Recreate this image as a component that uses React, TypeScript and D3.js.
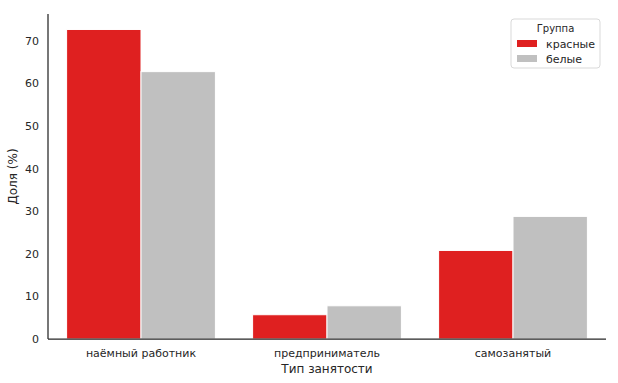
import React from "react";
import * as d3 from "d3";

const categories = ["наёмный работник", "предприниматель", "самозанятый"];
const groups = ["красные", "белые"];
const redValues = [72.7, 5.7, 20.8];
const whiteValues = [62.8, 7.8, 28.8];
const yTicks = [0, 10, 20, 30, 40, 50, 60, 70];
const colors = ["#df2020", "#c0c0c0"];

const W = 618, H = 383;
const m = { left: 48, right: 12, top: 14, bottom: 44 };

export default function App() {
  const series = [redValues, whiteValues];
  const x0 = d3.scaleBand().domain(categories).range([m.left, W - m.right]).paddingInner(0.2).paddingOuter(0.1);
  const x1 = d3.scaleBand().domain(groups).range([0, x0.bandwidth()]);
  const maxV = d3.max([...redValues, ...whiteValues]) as number;
  const y = d3.scaleLinear().domain([0, maxV * 1.05]).range([H - m.bottom, m.top]);
  const font = "DejaVu Sans, sans-serif";
  const textCol = "#262626";
  return (
    <svg width={W} height={H} style={{ position: "absolute", left: 0, top: 0, background: "#fff" }}>
      {categories.map((c, i) =>
        groups.map((g, j) => (
          <rect key={c + g} x={(x0(c) as number) + (x1(g) as number)} y={y(series[j][i])}
            width={x1.bandwidth()} height={y(0) - y(series[j][i])} fill={colors[j]} stroke="#fff" strokeWidth={1} />
        ))
      )}
      <line x1={m.left} x2={m.left} y1={m.top} y2={H - m.bottom} stroke={textCol} strokeWidth={1.25} />
      <line x1={m.left} x2={W - m.right} y1={H - m.bottom} y2={H - m.bottom} stroke={textCol} strokeWidth={1.25} />
      {yTicks.map(t => (
        <text key={t} x={m.left - 9} y={y(t)} dy="0.35em" textAnchor="end" fontFamily={font} fontSize={11} fill={textCol}>{t}</text>
      ))}
      {categories.map(c => (
        <text key={c} x={(x0(c) as number) + x0.bandwidth() / 2} y={H - m.bottom + 18} textAnchor="middle" fontFamily={font} fontSize={11} fill={textCol}>{c}</text>
      ))}
      <text x={(m.left + W - m.right) / 2} y={H - m.bottom + 34} textAnchor="middle" fontFamily={font} fontSize={12} fill={textCol}>Тип занятости</text>
      <text transform={`translate(17, ${(m.top + H - m.bottom) / 2}) rotate(-90)`} textAnchor="middle" fontFamily={font} fontSize={12} fill={textCol}>Доля (%)</text>
      <g transform="translate(511, 19)">
        <rect x={0} y={0} width={89} height={49} rx={3} fill="#fff" stroke="#d9d9d9" strokeWidth={1} />
        <text x={44.5} y={13} textAnchor="middle" fontFamily={font} fontSize={10} fill={textCol}>Группа</text>
        {groups.map((g, j) => (
          <g key={g} transform={`translate(6, ${21 + j * 15})`}>
            <rect x={0} y={0} width={20} height={7} fill={colors[j]} />
            <text x={29} y={4} dy="0.35em" fontFamily={font} fontSize={11} fill={textCol}>{g}</text>
          </g>
        ))}
      </g>
    </svg>
  );
}
